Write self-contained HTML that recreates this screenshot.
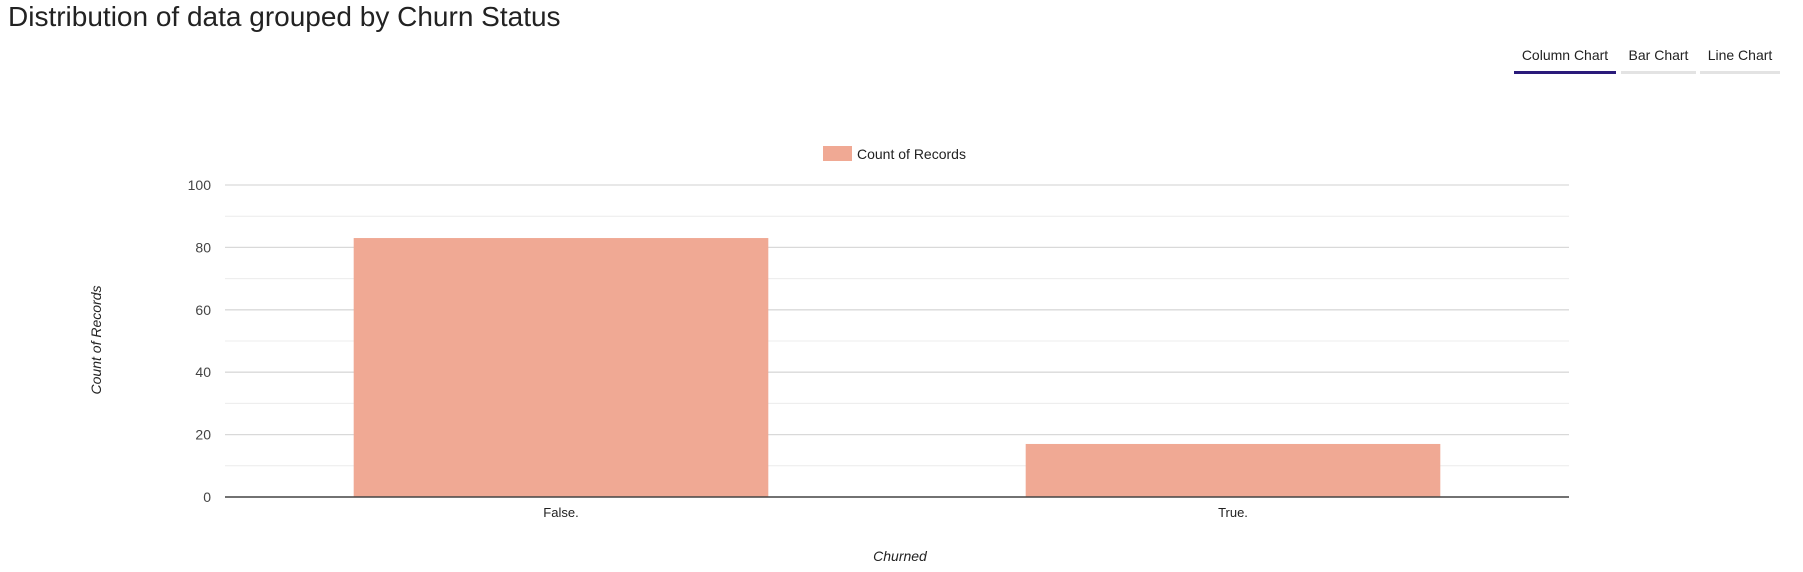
<!DOCTYPE html>
<html><head><meta charset="utf-8">
<style>
body{margin:0;width:1803px;height:572px;background:#fff;overflow:hidden;font-family:"Liberation Sans",sans-serif;position:relative}
.title{position:absolute;left:8px;top:1px;font-size:28px;color:#222;white-space:nowrap}
.tab{position:absolute;top:44px;height:27px;font-size:14px;color:#222;text-align:center;border-bottom:3px solid #e3e3e3;line-height:22px;cursor:pointer}
.tab.active{border-bottom-color:#2a1a7a}
svg{position:absolute;left:0;top:0}
</style></head><body>
<div class="title">Distribution of data grouped by Churn Status</div>
<div class="tab active" style="left:1514px;width:102px">Column Chart</div>
<div class="tab" style="left:1621px;width:75px">Bar Chart</div>
<div class="tab" style="left:1700px;width:80px">Line Chart</div>
<svg id="chart" width="1803" height="572"></svg>
<script>
const categories=["False.","True."];
const counts=[83,17];
const yTicks=[0,20,40,60,80,100];
const seriesName="Count of Records";

const NS="http://www.w3.org/2000/svg";
const svg=document.getElementById('chart');
const L=225,R=1569,T=185,B=497,yMax=100;
const y=v=>B-(v/yMax)*(B-T);
const band=(R-L)/categories.length;
function mk(tag,attrs,parent){const e=document.createElementNS(NS,tag);for(const k in attrs)e.setAttribute(k,attrs[k]);(parent||svg).appendChild(e);return e;}
for(let i=0;i<yTicks.length-1;i++){
  const m=(yTicks[i]+yTicks[i+1])/2;
  const g=mk('line',{x1:L,x2:R,y1:y(m),y2:y(m),stroke:'#ececec','stroke-width':1});
  
  
}
yTicks.forEach(t=>{
  if(t>0){const g=mk('line',{x1:L,x2:R,y1:y(t),y2:y(t),stroke:'#d9d9d9','stroke-width':1.3});
  
  }
  const tx=mk('text',{x:211,y:y(t)+5,'text-anchor':'end','font-size':14,fill:'#444'});
  tx.textContent=t;
  
  
});
categories.forEach((c,i)=>{
  const bw=band*0.617;
  const x0=L+band*i+(band-bw)/2;
  const r=mk('rect',{x:x0,y:y(counts[i]),width:bw,height:B-y(counts[i]),fill:'#f0a994'});
  
  
  const t=mk('text',{x:x0+bw/2,y:517,'text-anchor':'middle','font-size':13,fill:'#222'});
  t.textContent=c;
  
  
});
const ax=mk('line',{x1:L,x2:R,y1:B,y2:B,stroke:'#444','stroke-width':1.5});


const lg=mk('rect',{x:823,y:146,width:29,height:15,fill:'#f0a994'});


const lt=mk('text',{x:857,y:159,'font-size':14,fill:'#222'});
lt.textContent=seriesName;


const yt=mk('text',{x:0,y:0,'text-anchor':'middle','font-size':14,'font-style':'italic',fill:'#222',transform:'translate(101,340) rotate(-90)'});
yt.textContent="Count of Records";


const xt=mk('text',{x:900,y:561,'text-anchor':'middle','font-size':14,'font-style':'italic',fill:'#222'});
xt.textContent="Churned";


</script>
</body></html>
